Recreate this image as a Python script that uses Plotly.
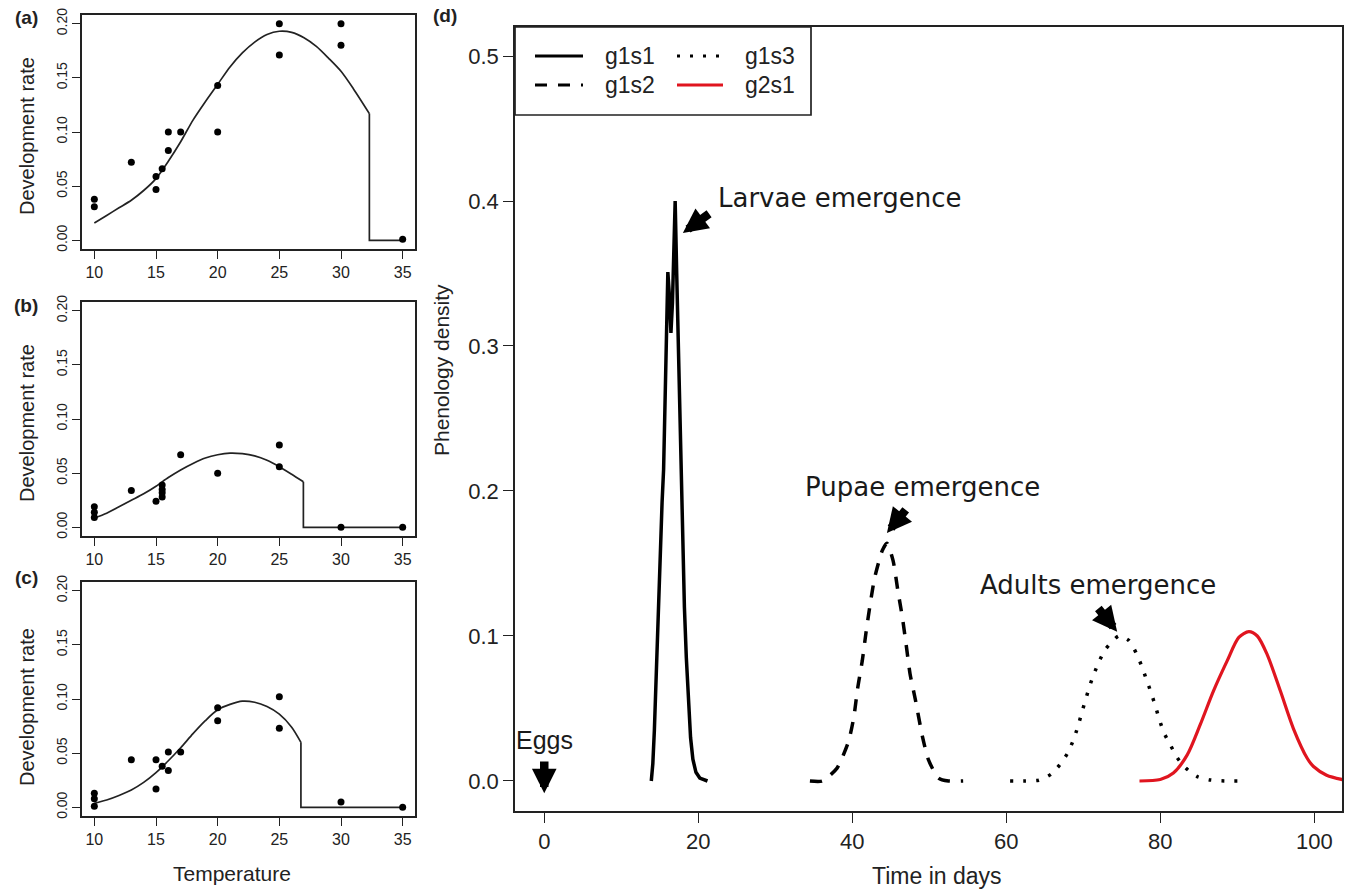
import plotly.graph_objects as go

W, H = 1346, 890

# ---------------- data: panels (a)-(c) ----------------
a_temp = [10, 10, 13, 15, 15, 15.5, 16, 16, 17, 20, 20, 25, 25, 30, 30, 35]
a_rate = [0.038, 0.031, 0.072, 0.059, 0.047, 0.066, 0.100, 0.083, 0.100, 0.143, 0.100, 0.200, 0.171, 0.200, 0.180, 0.001]
a_fit_temp = [10, 11, 12, 13, 14, 15, 16, 17, 18, 19, 20, 21, 22, 23, 24, 25, 26, 27, 28, 29, 30, 31, 32.3]
a_fit_rate = [0.016, 0.023, 0.030, 0.037, 0.046, 0.057, 0.073, 0.091, 0.111, 0.128, 0.144, 0.160, 0.173, 0.183, 0.190, 0.193, 0.192, 0.187, 0.179, 0.168, 0.156, 0.140, 0.117]
a_cut_temp = [32.3, 32.3, 35]
a_cut_rate = [0.117, 0.0, 0.0]

b_temp = [10, 10, 10, 13, 15, 15.5, 15.5, 15.5, 15.5, 17, 20, 25, 25, 30, 35]
b_rate = [0.019, 0.014, 0.009, 0.034, 0.024, 0.039, 0.035, 0.032, 0.028, 0.067, 0.050, 0.076, 0.056, 0.0, 0.0]
b_fit_temp = [10, 11, 12, 13, 14, 15, 16, 17, 18, 19, 20, 21, 22, 23, 24, 25, 26, 26.95]
b_fit_rate = [0.0086, 0.013, 0.019, 0.025, 0.031, 0.038, 0.046, 0.053, 0.059, 0.064, 0.067, 0.0685, 0.068, 0.066, 0.062, 0.056, 0.049, 0.042]
b_cut_temp = [26.95, 26.95, 35]
b_cut_rate = [0.042, 0.0, 0.0]

c_temp = [10, 10, 10, 13, 15, 15, 15.5, 16, 16, 17, 20, 20, 25, 25, 30, 35]
c_rate = [0.013, 0.008, 0.001, 0.044, 0.044, 0.017, 0.038, 0.051, 0.034, 0.051, 0.092, 0.080, 0.102, 0.073, 0.005, 0.0]
c_fit_temp = [10, 11, 12, 13, 14, 15, 16, 17, 18, 19, 20, 21, 22, 23, 24, 25, 26, 26.75]
c_fit_rate = [0.0037, 0.0068, 0.011, 0.016, 0.023, 0.032, 0.043, 0.055, 0.068, 0.080, 0.090, 0.095, 0.098, 0.097, 0.093, 0.086, 0.074, 0.060]
c_cut_temp = [26.75, 26.75, 35]
c_cut_rate = [0.060, 0.0, 0.0]

temp_ticks = [10, 15, 20, 25, 30, 35]
rate_ticks = [0.00, 0.05, 0.10, 0.15, 0.20]
rate_tick_labels = ["0.00", "0.05", "0.10", "0.15", "0.20"]

# ---------------- data: panel (d) ----------------
g1s1_day = [13.9, 14.1, 14.3, 14.5, 14.7, 14.9, 15.1, 15.3, 15.5, 15.7, 15.9, 16.05, 16.25, 16.45, 16.65,
            16.85, 17.0, 17.2, 17.4, 17.6, 17.8, 18.0, 18.2, 18.45, 18.7, 19.0, 19.3, 19.7, 20.2, 21.2]
g1s1_dens = [0.0, 0.012, 0.035, 0.070, 0.100, 0.140, 0.175, 0.192, 0.215, 0.270, 0.330, 0.351, 0.335, 0.309, 0.330,
             0.375, 0.400, 0.350, 0.300, 0.250, 0.200, 0.160, 0.120, 0.085, 0.055, 0.030, 0.015, 0.006, 0.002, 0.0]

g1s2_day = [34.5, 36.1, 38.0, 39.5, 40.2, 40.7, 41.3, 41.8, 42.3, 42.9, 43.9, 44.5, 45.3, 45.9, 46.5, 47.0,
            47.5, 48.2, 49.1, 49.9, 51.2, 52.5, 54.4]
g1s2_dens = [0.0, 0.0, 0.0087, 0.027, 0.044, 0.064, 0.083, 0.103, 0.121, 0.140, 0.159, 0.164, 0.152, 0.132,
             0.113, 0.094, 0.074, 0.056, 0.031, 0.0145, 0.002, 0.0, 0.0]

g1s3_day = [60.5, 62.3, 64.2, 65.8, 67.0, 68.0, 68.7, 69.3, 69.8, 70.3, 70.8, 71.4, 72.1, 72.9, 74.6, 75.9,
            76.9, 77.6, 78.2, 78.8, 79.4, 79.9, 80.5, 81.3, 82.2, 83.3, 84.8, 86.5, 88.3, 90.1]
g1s3_dens = [0.0, 0.0, 0.0005, 0.0046, 0.0115, 0.0195, 0.028, 0.0375, 0.047, 0.056, 0.065, 0.074, 0.083, 0.091,
             0.100, 0.097, 0.088, 0.079, 0.070, 0.061, 0.051, 0.042, 0.033, 0.025, 0.016, 0.009, 0.003, 0.0007, 0.0, 0.0]

g2s1_day = [77.3, 80.0, 81.7, 83.5, 85.2, 86.9, 88.7, 90.2, 91.5, 92.6, 93.9, 95.6, 97.3, 99.1, 99.9, 101.6, 103.8]
g2s1_dens = [0.0, 0.001, 0.0055, 0.018, 0.039, 0.062, 0.083, 0.099, 0.103, 0.100, 0.087, 0.062, 0.036, 0.0155, 0.010, 0.004, 0.0008]

day_ticks = [0, 20, 40, 60, 80, 100]
dens_ticks = [0.0, 0.1, 0.2, 0.3, 0.4, 0.5]
dens_tick_labels = ["0.0", "0.1", "0.2", "0.3", "0.4", "0.5"]

legend_names = ["g1s1", "g1s2", "g1s3", "g2s1"]

# ---------------- helpers ----------------
def px_x(p):
    return p / W

def px_y(p):
    return 1 - p / H

SANS = "Liberation Sans, Arial, sans-serif"
VERD = "DejaVu Sans, Verdana, sans-serif"
INK = "#222"

fig = go.Figure()

panels = [
    ("x", "y", a_temp, a_rate, a_fit_temp, a_fit_rate, a_cut_temp, a_cut_rate),
    ("x2", "y2", b_temp, b_rate, b_fit_temp, b_fit_rate, b_cut_temp, b_cut_rate),
    ("x3", "y3", c_temp, c_rate, c_fit_temp, c_fit_rate, c_cut_temp, c_cut_rate),
]
for xa, ya, pt, pr, ft, fr, ct, cr in panels:
    fig.add_trace(go.Scatter(x=ft, y=fr, mode="lines", xaxis=xa, yaxis=ya,
                             line=dict(color=INK, width=1.7, shape="spline", smoothing=0.8),
                             showlegend=False, hoverinfo="skip"))
    fig.add_trace(go.Scatter(x=ct, y=cr, mode="lines", xaxis=xa, yaxis=ya,
                             line=dict(color=INK, width=1.7),
                             showlegend=False, hoverinfo="skip"))
    fig.add_trace(go.Scatter(x=pt, y=pr, mode="markers", xaxis=xa, yaxis=ya,
                             marker=dict(color="black", size=7),
                             showlegend=False))

# panel (d)
fig.add_trace(go.Scatter(x=g1s1_day, y=g1s1_dens, mode="lines", xaxis="x4", yaxis="y4", name=legend_names[0],
                         line=dict(color="black", width=3.5), showlegend=False))
fig.add_trace(go.Scatter(x=g1s2_day, y=g1s2_dens, mode="lines", xaxis="x4", yaxis="y4", name=legend_names[1],
                         line=dict(color="black", width=3.5, dash="12px,11px", shape="spline", smoothing=0.6),
                         showlegend=False))
fig.add_trace(go.Scatter(x=g1s3_day, y=g1s3_dens, mode="lines", xaxis="x4", yaxis="y4", name=legend_names[2],
                         line=dict(color="black", width=3.5, dash="3px,10px", shape="spline", smoothing=0.6),
                         showlegend=False))
fig.add_trace(go.Scatter(x=g2s1_day, y=g2s1_dens, mode="lines", xaxis="x4", yaxis="y4", name=legend_names[3],
                         line=dict(color="#e0151f", width=3.2, shape="spline", smoothing=0.8),
                         showlegend=False))

# ---------------- axes ----------------
box_top = {"a": 15, "b": 302, "c": 582}
small_common_x = dict(range=[9, 36], tickvals=temp_ticks, ticks="outside", ticklen=8, tickwidth=1.3,
                      tickcolor=INK, automargin=False,
                      showline=True, linecolor=INK, linewidth=1.7, mirror=True, showgrid=False,
                      zeroline=False, tickfont=dict(family=SANS, size=16, color=INK))
small_common_y = dict(range=[-0.008, 0.208], tickvals=rate_ticks, ticktext=rate_tick_labels, ticks="outside",
                      ticklen=8, tickwidth=1.3, tickangle=-90, tickcolor=INK, automargin=False,
                      showline=True, linecolor=INK, linewidth=1.7, mirror=True, showgrid=False,
                      zeroline=False, tickfont=dict(family=SANS, size=14, color=INK))

layout_axes = {}
for i, key in enumerate(["a", "b", "c"]):
    top = box_top[key]
    bot = top + 234
    xname = "xaxis" if i == 0 else f"xaxis{i+1}"
    yname = "yaxis" if i == 0 else f"yaxis{i+1}"
    yref = "y" if i == 0 else f"y{i+1}"
    xref = "x" if i == 0 else f"x{i+1}"
    layout_axes[xname] = dict(small_common_x, domain=[px_x(82), px_x(415)], anchor=yref)
    layout_axes[yname] = dict(small_common_y, domain=[px_y(bot), px_y(top)], anchor=xref)

layout_axes["xaxis4"] = dict(range=[-3.8, 103.6], tickvals=day_ticks, ticks="outside", ticklen=10, tickwidth=1.3,
                             tickcolor=INK, automargin=False,
                             showline=True, linecolor=INK, linewidth=1.7, mirror=True, showgrid=False,
                             zeroline=False, domain=[px_x(515), px_x(1342)], anchor="y4",
                             tickfont=dict(family=SANS, size=22, color=INK))
layout_axes["yaxis4"] = dict(range=[-0.0207, 0.52], tickvals=dens_ticks, ticktext=dens_tick_labels, ticks="outside",
                             ticklen=10, tickwidth=1.3, tickcolor=INK, automargin=False,
                             showline=True, linecolor=INK, linewidth=1.7, mirror=True, showgrid=False,
                             zeroline=False, domain=[px_y(811), px_y(27)], anchor="x4",
                             tickfont=dict(family=SANS, size=22, color=INK))

fig.update_layout(width=W, height=H, margin=dict(l=0, r=0, t=0, b=0, pad=0, autoexpand=False),
                  plot_bgcolor="white", paper_bgcolor="white", showlegend=False, **layout_axes)

# ---------------- text annotations ----------------
ann = []

def paper_text(text, xp, yp, size, angle=0, family=SANS, xanchor="center"):
    return dict(text=text, x=px_x(xp), y=px_y(yp), xref="paper", yref="paper", showarrow=False,
                xanchor=xanchor, yanchor="middle", textangle=angle,
                font=dict(family=family, size=size, color=INK))

# panel letters
for lab, xp, yp in [("(a)", 26, 17), ("(b)", 26, 305), ("(c)", 26, 577), ("(d)", 445, 16)]:
    ann.append(paper_text(f"<b>{lab}</b>", xp, yp, 19))
# y titles for small panels
for key, off in [("a", 4), ("b", 4), ("c", 8)]:
    top = box_top[key]
    ann.append(paper_text("Development rate", 27, top + 117 + off, 20, angle=-90))
ann.append(paper_text("Temperature", 232, 873, 21))
ann.append(paper_text("Phenology density", 441, 370, 21, angle=-90))
ann.append(paper_text("Time in days", 937, 876, 23))

# emergence labels
for txt, xd, yd in [("Larvae emergence", 38.4, 0.402), ("Pupae emergence", 49.1, 0.203),
                    ("Adults emergence", 71.9, 0.135)]:
    ann.append(dict(text=txt, x=xd, y=yd, xref="x4", yref="y4", showarrow=False,
                    xanchor="center", yanchor="middle",
                    font=dict(family=VERD, size=26, color="#1a1a1a")))
ann.append(dict(text="Eggs", x=0, y=0.028, xref="x4", yref="y4", showarrow=False,
                xanchor="center", yanchor="middle",
                font=dict(family=SANS, size=25, color="#1a1a1a")))

# arrows (head x,y ; tail ax,ay)
for hx, hy, tx, ty in [(18.0, 0.378, 21.6, 0.392), (44.5, 0.171, 47.1, 0.188),
                       (74.4, 0.103, 71.8, 0.120), (0.0, -0.0085, 0.0, 0.0145)]:
    ann.append(dict(text="", x=hx, y=hy, ax=tx, ay=ty, xref="x4", yref="y4", axref="x4", ayref="y4",
                    showarrow=True, arrowhead=2, arrowsize=0.58, arrowwidth=8.5, arrowcolor="black",
                    standoff=0, startstandoff=0))

# manual legend (two columns, R style)
shapes = [dict(type="rect", xref="paper", yref="paper", x0=px_x(515), x1=px_x(811), y0=px_y(115), y1=px_y(27),
               line=dict(color=INK, width=1.7), fillcolor="white", layer="above")]
leg_items = [
    (legend_names[0], 535, 583, 56, dict(color="black", width=3)),
    (legend_names[1], 535, 583, 85, dict(color="black", width=3, dash="12px,11px")),
    (legend_names[2], 677, 723, 56, dict(color="black", width=3, dash="3px,10px")),
    (legend_names[3], 677, 723, 85, dict(color="#e0151f", width=3)),
]
for name, x0, x1, yy, ln in leg_items:
    shapes.append(dict(type="line", xref="paper", yref="paper", x0=px_x(x0), x1=px_x(x1), y0=px_y(yy), y1=px_y(yy),
                       line=ln, layer="above"))
    ann.append(paper_text(name, x1 + 20, yy, 23, xanchor="left"))

fig.update_layout(annotations=ann, shapes=shapes)
fig.write_html("out.html", config={"displayModeBar": False},
               post_script="document.body.style.margin='0';document.body.style.padding='0';"
                           "document.documentElement.style.overflow='hidden';")
